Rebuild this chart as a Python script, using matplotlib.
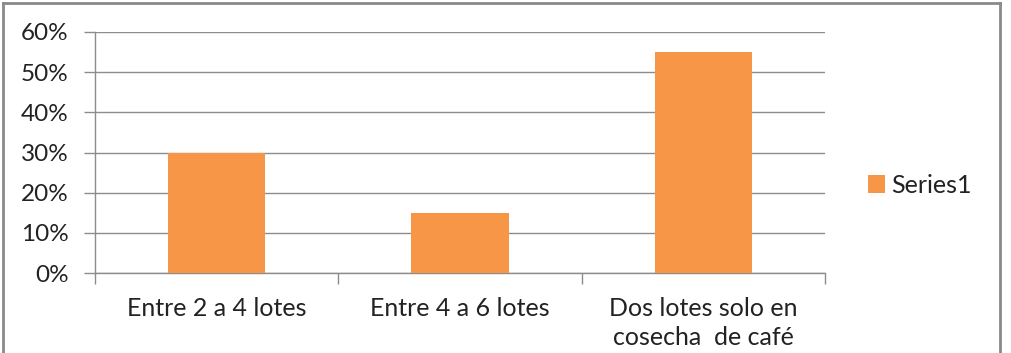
import matplotlib.pyplot as plt
from matplotlib.lines import Line2D
from matplotlib.ticker import FixedLocator, PercentFormatter

categorias = ["Entre 2 a 4 lotes", "Entre 4 a 6 lotes", "Dos lotes solo en\ncosecha  de café"]
valores = [0.30, 0.15, 0.55]
serie = "Series1"

plt.rcParams['font.family'] = ['Lato', 'DejaVu Sans']

fig = plt.figure(figsize=(10.11, 3.53), dpi=100)
ax = fig.add_axes([95 / 1011, 1 - 273 / 353, 730 / 1011, 241 / 353])

x = range(len(categorias))
ax.bar(x, valores, width=0.4, color='#F79646', label=serie, zorder=3)

ax.set_xlim(-0.5, len(categorias) - 0.5)
ax.set_ylim(0, 0.6)
ax.set_yticks([i / 10 for i in range(7)])
ax.yaxis.set_major_formatter(PercentFormatter(1.0, decimals=0))
ax.grid(axis='y', color='#8c8c8c', linewidth=1, zorder=0)

ax.set_xticks(list(x))
ax.set_xticklabels(categorias, fontsize=18, color='#222222', linespacing=1.35)
ax.xaxis.set_minor_locator(FixedLocator([-0.5, 0.5, 1.5, 2.5]))
ax.tick_params(axis='x', which='major', length=0, pad=17)
ax.tick_params(axis='x', which='minor', length=8, color='#8c8c8c', width=1)
ax.tick_params(axis='y', length=8, color='#8c8c8c', width=1, labelsize=17.5,
               labelcolor='#222222', pad=11)

for s in ['top', 'right']:
    ax.spines[s].set_visible(False)
for s in ['left', 'bottom']:
    ax.spines[s].set_color('#8c8c8c')
    ax.spines[s].set_linewidth(1)

ax.legend(loc='center left', bbox_to_anchor=(1.045, 0.365), frameon=False,
          fontsize=18, handlelength=0.7, handleheight=0.7, handletextpad=0.25,
          labelcolor='#222222', borderaxespad=0)

# marco exterior del gráfico
W, H = 1011, 353
for xs, ys in [([3, 3], [3, 360]), ([3, 1000], [3, 3]), ([1000, 1000], [3, 360])]:
    fig.add_artist(Line2D([v / W for v in xs], [1 - v / H for v in ys],
                          color='#8a8a8a', linewidth=2))

fig.savefig('out.png', dpi=100)
